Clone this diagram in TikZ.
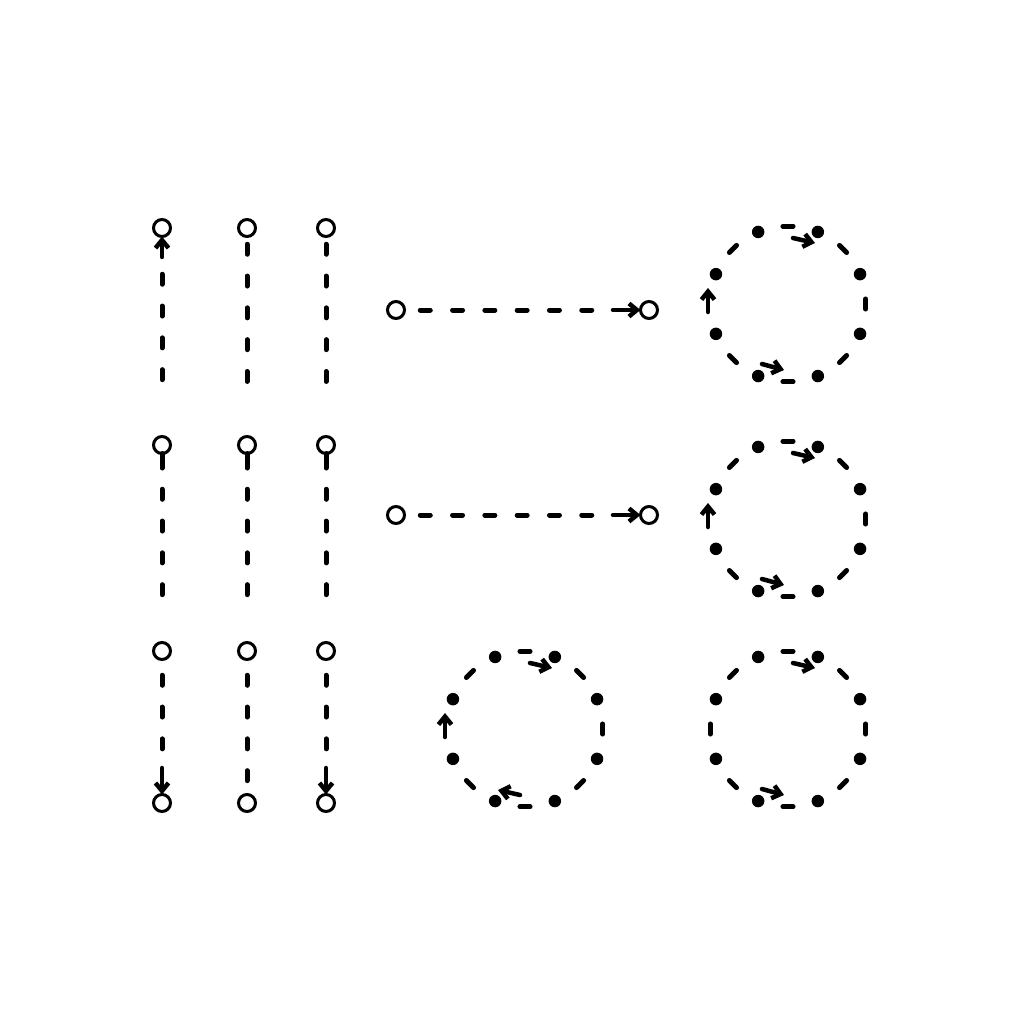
\documentclass[tikz,border=0pt]{standalone}
\usetikzlibrary{arrows.meta,calc}
\begin{document}
\begin{tikzpicture}[x=1pt,y=-1pt,
  open/.style={circle,draw,line width=3pt,minimum size=17pt,inner sep=0pt,outer sep=0pt,fill=white},
  dot/.style={circle,fill,minimum size=12.5pt,inner sep=0pt},
  vdash/.style={line width=5pt,line cap=round,dash pattern=on 10pt off 21.8pt},
  hdash/.style={line width=5pt,line cap=round,dash pattern=on 10pt off 22.3pt},
  stem/.style={line width=5pt,line cap=round},
  arr/.style={line width=4.5pt,line cap=round,-{Straight Barb[length=8pt,width=13pt,line join=miter]}},
]
\useasboundingbox[fill=white] (0,0) rectangle (1024,1024);

% ---- row 1 verticals
\node[open] (t1a) at (162,228) {};
\node[open] (t1b) at (247,228) {};
\node[open] (t1c) at (326,228) {};
\coordinate (t1a-s) at (162,257);
\coordinate (t1a-e) at (162,381);
\coordinate (t1b-e) at (247,383);
\coordinate (t1c-e) at (326,383);
\draw[arr] (t1a-s) -- (t1a);
\draw[vdash, shorten <=37.75pt] (t1a) -- (t1a-e);
\draw[vdash, shorten <=7.75pt] (t1b) -- (t1b-e);
\draw[vdash, shorten <=7.75pt] (t1c) -- (t1c-e);

% ---- row 2 verticals
\foreach \n/\x in {a/162,b/247,c/326}{
  \node[open] (t2\n) at (\x,445) {};
  \coordinate (t2\n-s) at (\x,468);
  \coordinate (t2\n-e) at (\x,596);
  \draw[stem] (t2\n) -- (t2\n-s);
  \draw[vdash, shorten <=35.75pt] (t2\n) -- (t2\n-e);
}

% ---- row 3 verticals
\foreach \n/\x in {a/162,b/247,c/326}{
  \node[open] (t3\n) at (\x,651) {};
  \node[open] (b3\n) at (\x,803) {};
}
\coordinate (t3a-e) at (162,752);
\coordinate (t3a-s) at (162,768);
\coordinate (t3c-e) at (326,752);
\coordinate (t3c-s) at (326,768);
\draw[vdash, shorten <=15.75pt] (t3a) -- (t3a-e);
\draw[arr] (t3a-s) -- (b3a);
\draw[vdash, shorten <=15.75pt, shorten >=13pt] (t3b) -- (b3b);
\draw[vdash, shorten <=15.75pt] (t3c) -- (t3c-e);
\draw[arr] (t3c-s) -- (b3c);

% ---- horizontal arrows
\foreach \n/\y in {1/310,2/515}{
  \node[open] (h\n a) at (396,\y) {};
  \node[open] (h\n b) at (649,\y) {};
  \coordinate (h\n e) at (593,\y);
  \coordinate (h\n s) at (613,\y);
  \draw[hdash, shorten <=15.75pt] (h\n a) -- (h\n e);
  \draw[arr] (h\n s) -- (h\n b);
}

% ---- rings
\foreach \r/\cx/\cy in {1/788/304,2/788/519,3/525/729,4/788/729}{
  \coordinate (rc\r) at (\cx,\cy);
  \foreach \k in {0,...,7}{
    \node[dot] (r\r-\k) at ($(rc\r)+({22.5+45*\k}:78)$) {};
  }
  \foreach \a in {0,45,90,135,225,270,315}{
    \draw[stem] ($(rc\r)+({\a-3.7}:78)$) -- ($(rc\r)+({\a+3.7}:78)$);
  }
  \draw[arr] ($(rc\r)+(5,-66)$) -- ($(rc\r)+(27,-61)$);
}
% left side of rings
\foreach \r in {1,2,3}{
  \draw[arr] ($(rc\r)+(-80,8)$) -- ($(rc\r)+(-80,-16)$);
}
\draw[stem] ($(rc4)+({180-3.7}:78)$) -- ($(rc4)+({180+3.7}:78)$);
% bottom arrows
\foreach \r in {1,2,4}{
  \draw[arr] ($(rc\r)+(-26,60)$) -- ($(rc\r)+(-4,66)$);
}
\draw[arr] ($(rc3)+(-5,66)$) -- ($(rc3)+(-27,61)$);
\end{tikzpicture}
\end{document}
